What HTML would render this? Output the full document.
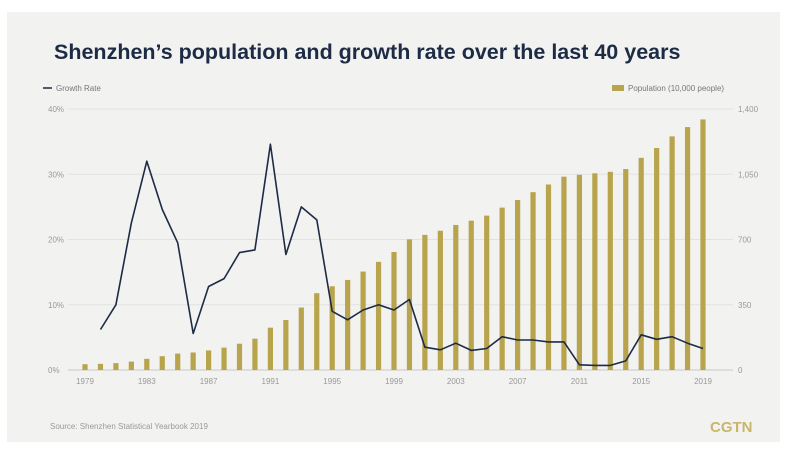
<!DOCTYPE html>
<html><head><meta charset="utf-8">
<style>
html,body{margin:0;padding:0;background:#fff;width:795px;height:451px;overflow:hidden}
#panel{position:absolute;left:7px;top:12px;width:773px;height:430px;background:#f2f2f1}
svg{position:absolute;left:0;top:0}
</style></head>
<body>
<div id="panel"></div>
<svg id="chart" width="795" height="451" font-family="'Liberation Sans', sans-serif">
<text x="54" y="59" font-size="21.5" font-weight="bold" fill="#1d2b45">Shenzhen’s population and growth rate over the last 40 years</text>
<g><line x1="43" y1="88" x2="52" y2="88" stroke="#1d2b45" stroke-width="1.5"/><text x="56" y="91" font-size="8" fill="#777">Growth Rate</text></g>
<g><rect x="612" y="85" width="12" height="6" fill="#b8a44c"/><text x="628" y="91" font-size="8" fill="#777">Population (10,000 people)</text></g>
<g id="grid"></g><g id="bars"></g><g id="line"></g><g id="axes"></g>
<text x="50" y="429" font-size="8" fill="#999">Source:  Shenzhen Statistical Yearbook 2019</text>
<text x="710" y="432" font-size="15" font-weight="bold" fill="#c9b66a">CGTN</text>
</svg>
<script>
const years=[1979,1980,1981,1982,1983,1984,1985,1986,1987,1988,1989,1990,1991,1992,1993,1994,1995,1996,1997,1998,1999,2000,2001,2002,2003,2004,2005,2006,2007,2008,2009,2010,2011,2012,2013,2014,2015,2016,2017,2018,2019];
const population=[31,33,37,45,60,74,88,94,105,120,141,168,227,268,335,412,449,483,528,580,633,701,725,747,778,801,828,871,912,954,995,1037,1047,1055,1063,1078,1138,1191,1253,1303,1344];
const growthRate=[null,6.2,10,22.5,32,24.6,19.5,5.6,12.8,14,18,18.4,34.6,17.7,25,23,9,7.7,9.2,10,9.2,10.8,3.5,3.1,4.1,3.0,3.3,5.1,4.6,4.6,4.3,4.3,0.8,0.7,0.7,1.4,5.4,4.7,5.1,4.1,3.3];
const leftTicks=[0,10,20,30,40];
const rightTicks=[0,350,700,1050,1400];
const xTickYears=[1979,1983,1987,1991,1995,1999,2003,2007,2011,2015,2019];
const NS="http://www.w3.org/2000/svg";
const x0=85,x1=703,yB=370,yT=109;
const xs=y=>x0+(y-1979)*(x1-x0)/40;
const yL=v=>yB-v*(yB-yT)/40;
const yR=v=>yB-v*(yB-yT)/1400;
function mk(t,a,p){const e=document.createElementNS(NS,t);for(const k in a)e.setAttribute(k,a[k]);p.appendChild(e);return e;}
const grid=document.getElementById('grid'),bars=document.getElementById('bars'),line=document.getElementById('line'),axes=document.getElementById('axes');
leftTicks.forEach((v,i)=>{
 const g=mk('line',{x1:68,x2:733,y1:yL(v),y2:yL(v),stroke:i==0?'#c8c8c8':'#e2e2e2','stroke-width':1},grid);
 
 
 const t=mk('text',{x:48,y:yL(v)+3,'font-size':8,fill:'#999'},axes);t.textContent=v+'%';
 
 
});
rightTicks.forEach(v=>{
 const t=mk('text',{x:738,y:yR(v)+3,'font-size':8,fill:'#999'},axes);t.textContent=v.toLocaleString('en-US');
 
 
});
xTickYears.forEach(y=>{
 const t=mk('text',{x:xs(y),y:384,'font-size':8,fill:'#999','text-anchor':'middle'},axes);t.textContent=y;
 
 
});
years.forEach((y,i)=>{
 const r=mk('rect',{x:xs(y)-2.6,y:yR(population[i]),width:5.2,height:yB-yR(population[i]),fill:'#b8a44c'},bars);
 
 
});
let d='';
years.forEach((y,i)=>{const v=growthRate[i];if(v==null)return;d+=(d?'L':'M')+xs(y).toFixed(1)+','+yL(v).toFixed(1);});
const p=mk('path',{d:d,fill:'none',stroke:'#1d2b45','stroke-width':1.6,'stroke-linejoin':'round'},line);


</script>
</body></html>
